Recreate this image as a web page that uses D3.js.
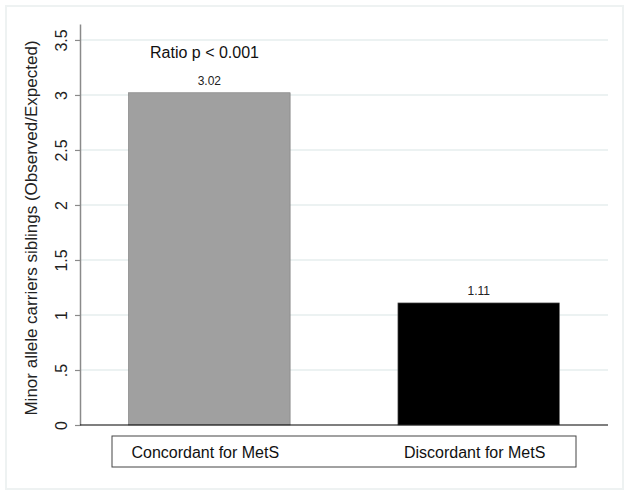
<!DOCTYPE html>
<html>
<head>
<meta charset="utf-8">
<script src="https://cdn.jsdelivr.net/npm/d3@7"></script>
<style>
  body { margin: 0; background: #fff; }
  svg { display: block; font-family: "Liberation Sans", Arial, sans-serif; }
</style>
</head>
<body>
<svg id="chart" width="629" height="495"></svg>
<script>
// data
var categories = ["Concordant for MetS", "Discordant for MetS"];
var ratios = [3.02, 1.11];
var barColors = ["#a0a0a0", "#000000"];
var yTicks = [0, 0.5, 1, 1.5, 2, 2.5, 3, 3.5];
var yTickLabels = ["0", ".5", "1", "1.5", "2", "2.5", "3", "3.5"];

var svg = d3.select("#chart");

// outer frame
svg.append("rect")
  .attr("x", 6).attr("y", 6)
  .attr("width", 617).attr("height", 483)
  .attr("fill", "#fff")
  .attr("stroke", "#eef2f2")
  .attr("stroke-width", 2);

var plotLeft = 80, plotRight = 608, plotTop = 24, plotBottom = 425;

var y = d3.scaleLinear().domain([0, 3.645]).range([plotBottom, plotTop]);
var x = d3.scaleBand().domain(categories).range([plotLeft, plotRight])
  .paddingInner(0.4).paddingOuter(0.18);

// gridlines
svg.append("g")
  .selectAll("line")
  .data(yTicks.filter(function(d) { return d > 0; }))
  .enter().append("line")
  .attr("x1", plotLeft).attr("x2", plotRight)
  .attr("y1", function(d) { return y(d); })
  .attr("y2", function(d) { return y(d); })
  .attr("stroke", "#e6eeee")
  .attr("stroke-width", 1.5);

// bars
svg.append("g")
  .selectAll("rect")
  .data(ratios)
  .enter().append("rect")
  .attr("x", function(d, i) { return x(categories[i]); })
  .attr("y", function(d) { return y(d); })
  .attr("width", x.bandwidth())
  .attr("height", function(d) { return plotBottom - y(d); })
  .attr("fill", function(d, i) { return barColors[i]; })
  .attr("stroke", "#777")
  .attr("stroke-width", 0.6);

// value labels
svg.append("g")
  .selectAll("text")
  .data(ratios)
  .enter().append("text")
  .attr("x", function(d, i) { return x(categories[i]) + x.bandwidth() / 2; })
  .attr("y", function(d) { return y(d) - 8; })
  .attr("text-anchor", "middle")
  .style("font-size", "12px")
  .attr("fill", "#222")
  .text(function(d) { return d.toFixed(2); });

// y axis
var yAxis = d3.axisLeft(y).tickValues(yTicks)
  .tickFormat(function(d, i) { return yTickLabels[i]; })
  .tickSize(5).tickSizeOuter(0);
var gy = svg.append("g")
  .attr("transform", "translate(" + plotLeft + ",0)")
  .call(yAxis);
gy.select(".domain").attr("stroke", "#8a8a8a").attr("stroke-width", 1.5);
gy.selectAll(".tick line").attr("stroke", "#8a8a8a").attr("stroke-width", 1.2);
gy.selectAll(".tick text")
  .style("font-size", "16px")
  .style("font-family", "Liberation Sans, Arial, sans-serif")
  .attr("fill", "#222")
  .attr("transform", "rotate(-90)")
  .attr("x", 0)
  .attr("y", -13)
  .attr("dy", 0)
  .attr("text-anchor", "middle");

// baseline
svg.append("line")
  .attr("x1", plotLeft).attr("x2", plotRight)
  .attr("y1", y(0)).attr("y2", y(0))
  .attr("stroke", "#000").attr("stroke-width", 1.2);

// y title
svg.append("text")
  .attr("transform", "translate(37," + 228 + ") rotate(-90)")
  .attr("text-anchor", "middle")
  .style("font-size", "17px")
  .attr("fill", "#222")
  .text("Minor allele carriers siblings (Observed/Expected)");

// annotation
svg.append("text")
  .attr("x", 150).attr("y", 58)
  .style("font-size", "16px")
  .attr("fill", "#111")
  .text("Ratio p < 0.001");

// category key box
svg.append("rect")
  .attr("x", 112).attr("y", 436)
  .attr("width", 464).attr("height", 31)
  .attr("fill", "#fff")
  .attr("stroke", "#444")
  .attr("stroke-width", 1);

svg.append("g")
  .selectAll("text")
  .data(categories)
  .enter().append("text")
  .attr("x", function(d) { return x(d) + x.bandwidth() / 2 - 4; })
  .attr("y", 458)
  .attr("text-anchor", "middle")
  .style("font-size", "16px")
  .attr("fill", "#111")
  .text(function(d) { return d; });
</script>
</body>
</html>
